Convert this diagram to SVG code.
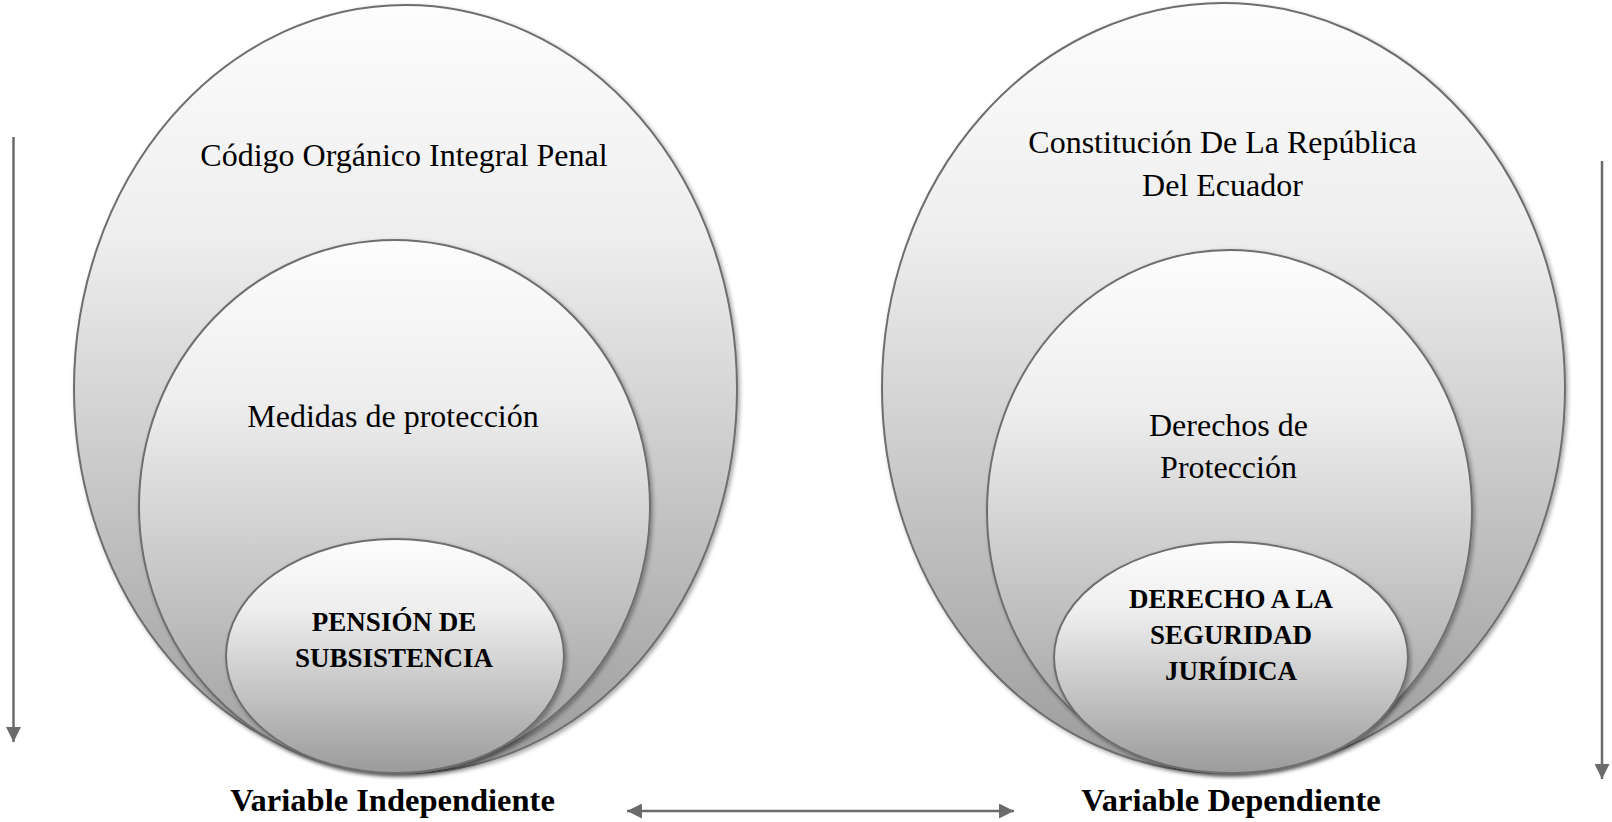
<svg xmlns="http://www.w3.org/2000/svg" width="1612" height="822" viewBox="0 0 1612 822">
<style>
.bub{stroke:#6e6e6e;stroke-width:2;filter:url(#sh)}
.t{font-family:"Liberation Serif","Times New Roman",serif;fill:#000;text-anchor:middle}
.n{font-size:32px}
.b{font-size:27px;font-weight:bold}
.v{font-size:32.5px;font-weight:bold}
.conn{stroke:#6b6b6b;stroke-width:2.5;fill:none}
</style>
<defs>
<linearGradient id="g" x1="0" y1="0" x2="0" y2="1">
<stop offset="0" stop-color="#fdfdfd"/>
<stop offset="0.3" stop-color="#eeeeee"/>
<stop offset="1" stop-color="#9b9b9b"/>
</linearGradient>
<filter id="sh" x="-10%" y="-10%" width="120%" height="120%">
<feDropShadow dx="2" dy="2" stdDeviation="2" flood-color="#000" flood-opacity="0.35"/>
</filter>
<marker id="ah" viewBox="0 0 15 15" refX="15" refY="7.5" markerWidth="15" markerHeight="15" markerUnits="userSpaceOnUse" orient="auto-start-reverse">
<path d="M0,0 L15,7.5 L0,15 z" fill="#6b6b6b"/>
</marker>
</defs>
<rect width="1612" height="822" fill="#fff"/>

<g id="left-outer">
<ellipse class="bub" cx="405.5" cy="389" rx="331.5" ry="384" fill="url(#g)"/>
<text class="t n" x="404" y="166">Código Orgánico Integral Penal</text>
</g>
<g id="left-middle">
<ellipse class="bub" cx="394.5" cy="506.5" rx="255.5" ry="266.5" fill="url(#g)"/>
<text class="t n" x="393" y="427">Medidas de protección</text>
</g>
<g id="left-inner">
<ellipse class="bub" cx="395" cy="656" rx="169" ry="117" fill="url(#g)"/>
<text class="t b" x="394" y="631">PENSIÓN DE</text>
<text class="t b" x="394" y="667">SUBSISTENCIA</text>
</g>

<g id="right-outer">
<ellipse class="bub" cx="1223.5" cy="388" rx="341.5" ry="385" fill="url(#g)"/>
<text class="t n" x="1222.5" y="153">Constitución De La República</text>
<text class="t n" x="1222.5" y="196">Del Ecuador</text>
</g>
<g id="right-middle">
<ellipse class="bub" cx="1229.5" cy="511.5" rx="242.5" ry="261.5" fill="url(#g)"/>
<text class="t n" x="1228.5" y="436">Derechos de</text>
<text class="t n" x="1228.5" y="478">Protección</text>
</g>
<g id="right-inner">
<ellipse class="bub" cx="1231" cy="657.5" rx="177" ry="115.5" fill="url(#g)"/>
<text class="t b" x="1231" y="608">DERECHO A LA</text>
<text class="t b" x="1231" y="644">SEGURIDAD</text>
<text class="t b" x="1231" y="680">JURÍDICA</text>
</g>

<g id="label-independiente">
<text class="t v" x="392.5" y="811">Variable Independiente</text>
</g>
<g id="label-dependiente">
<text class="t v" x="1231" y="811">Variable Dependiente</text>
</g>

<g id="connectors">
<line class="conn" x1="13.5" y1="137" x2="13.5" y2="742" marker-end="url(#ah)"/>
<line class="conn" x1="1602" y1="161" x2="1602" y2="779" marker-end="url(#ah)"/>
<line class="conn" x1="627" y1="811" x2="1014" y2="811" marker-start="url(#ah)" marker-end="url(#ah)"/>
</g>
</svg>
